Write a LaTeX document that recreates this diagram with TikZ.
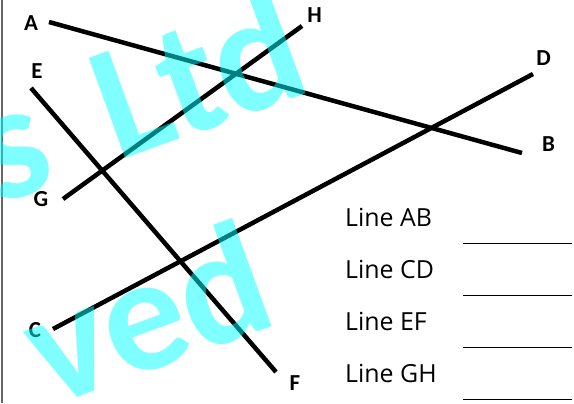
\documentclass[tikz,border=0pt]{standalone}
\usepackage{fontspec}
\setmainfont{Carlito}
\newfontfamily\ecriture{Open Sans}
\definecolor{cyanvif}{RGB}{0,255,255}
\begin{document}
\begin{tikzpicture}[x=1bp,y=-1bp]
			\tikzstyle{trait}=[line width=4.5bp]
			\tikzstyle{lettre}=[font=\bfseries\fontsize{23}{23}\selectfont,inner sep=0pt]
			\tikzstyle{consigne}=[font=\ecriture\fontsize{25}{25}\selectfont,anchor=base west,inner sep=0pt]
			\tikzstyle{reponse}=[line width=1.8bp]
			\tikzstyle{filigrane}=[font=\bfseries\fontsize{165}{165}\selectfont,text=cyanvif,text opacity=0.5,rotate=20,anchor=base east,inner sep=0pt]
			\def\EcartLignes{52}
			\useasboundingbox (0,0) rectangle (574,403);
			\draw[black!60,line width=1.5bp] (2,0) -- (2,403);
			% extremites des segments
			\coordinate (pA) at (49,22);
			\coordinate (pB) at (522,153);
			\coordinate (pC) at (53,329);
			\coordinate (pD) at (533,74);
			\coordinate (pE) at (31,88);
			\coordinate (pF) at (276,372);
			\coordinate (pG) at (63,199);
			\coordinate (pH) at (302,26);
			\node[lettre] (A) at (31,23.5) {A};
			\node[lettre] (B) at (548.5,144.5) {B};
			\node[lettre] (C) at (35,330) {C};
			\node[lettre] (D) at (543.5,58) {D};
			\node[lettre] (E) at (37,71) {E};
			\node[lettre] (F) at (295,383.5) {F};
			\node[lettre] (G) at (41,199.5) {G};
			\node[lettre] (H) at (314.5,15) {H};
			\draw[trait] (pA)--(pB);
			\draw[trait] (pC)--(pD);
			\draw[trait] (pE)--(pF);
			\draw[trait] (pG)--(pH);
			% questions
			\foreach \nom [count=\i from 0] in {AB,CD,EF,GH} {
				\node[consigne] (Q\nom) at (345,{226.5+\i*\EcartLignes}) {Line \nom};
				\coordinate (Rg\nom) at (463,{243.5+\i*\EcartLignes});
				\coordinate (Rd\nom) at (572,{243.5+\i*\EcartLignes});
				\draw[reponse] (Rg\nom)--(Rd\nom);
			}
			% filigrane
			\node[filigrane] (W1) at (315,90) {s\hspace{0.15em} Ltd};
			\node[filigrane] (W2) at (282,323) {ved};
		\end{tikzpicture}
\end{document}
